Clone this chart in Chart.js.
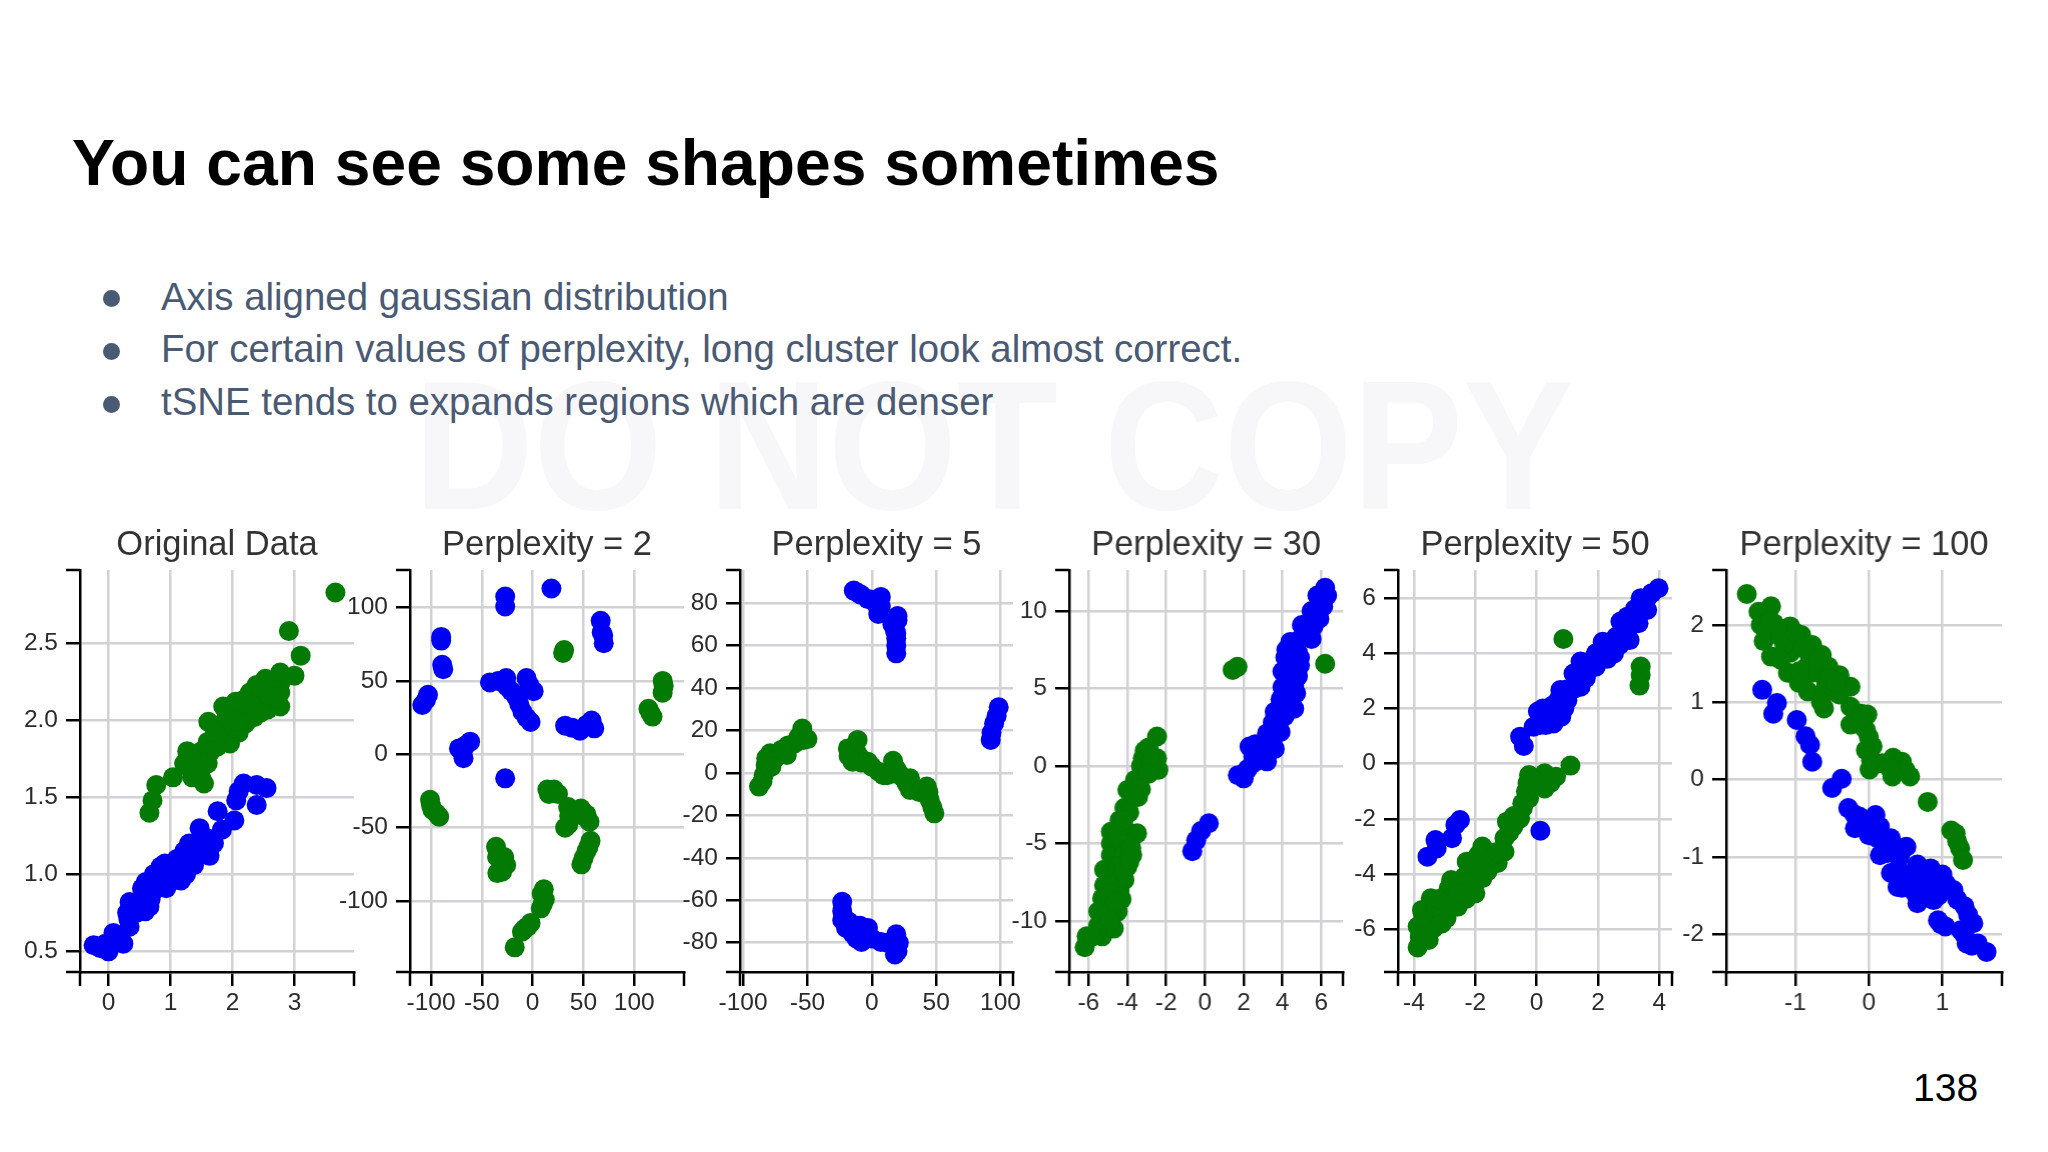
<!DOCTYPE html>
<html>
<head>
<meta charset="utf-8">
<title>You can see some shapes sometimes</title>
<script src="https://cdn.jsdelivr.net/npm/chart.js@4"></script>
<style>
  html, body { margin: 0; padding: 0; background: #fff; }
  body { position: relative; width: 2048px; height: 1152px; overflow: hidden; font-family: "Liberation Sans", Arial, sans-serif; }
  .abs { position: absolute; white-space: nowrap; line-height: 1; }
  #mainTitle { left: 72px; top: 131px; font-size: 64.2px; font-weight: bold; color: #000; }
  #watermark { left: 414px; top: 354px; font-size: 183px; font-weight: bold; color: #f7f6f8; transform: scaleX(0.905); transform-origin: left top; }
  .bullet { left: 161px; font-size: 38.4px; color: #4a5a75; }
  .dot { position: absolute; left: 103px; width: 17px; height: 17px; border-radius: 50%; background: #4a5a75; }
  #pageNum { left: 1913px; top: 1068px; font-size: 39px; color: #000; }
  canvas { position: absolute; }
</style>
</head>
<body>
<div class="abs" id="watermark">DO NOT COPY</div>
<div class="abs" id="mainTitle">You can see some shapes sometimes</div>
<div class="dot" style="top:290px"></div>
<div class="abs bullet" style="top:278px">Axis aligned gaussian distribution</div>
<div class="dot" style="top:343px"></div>
<div class="abs bullet" style="top:330px">For certain values of perplexity, long cluster look almost correct.</div>
<div class="dot" style="top:396px"></div>
<div class="abs bullet" style="top:383px">tSNE tends to expands regions which are denser</div>
<div class="abs" id="pageNum">138</div>

<script>
// values, [x, y]
const originalGreen = [[3.66,2.83],[2.91,2.58],[3.10,2.42],[3.0,2.29],[2.77,2.31],[2.53,2.27],[2.39,2.23],[2.28,2.18],[2.17,2.13],[2.77,2.24],[2.77,2.18],[2.77,2.09],[2.57,2.07],[2.35,2.02],[2.21,1.98],[2.10,1.92],[1.96,1.85],[1.85,2.09],[1.96,2.08],[1.99,2.01],[2.14,2.05],[2.46,2.15],[2.64,2.22],[2.57,2.13],[2.35,2.09],[1.61,1.99],[1.71,1.94],[1.60,1.86],[1.76,1.83],[1.27,1.80],[1.42,1.76],[1.22,1.72],[1.56,1.74],[1.31,1.69],[1.49,1.68],[1.35,1.63],[1.54,1.59],[1.04,1.63],[0.77,1.58],[0.71,1.48],[0.66,1.40],[1.92,1.96],[2.25,2.08],[1.85,1.98],[1.45,1.70],
  [2.0,1.95],[2.05,2.0],[2.2,2.12],[2.3,2.1],[2.45,2.05],[2.6,2.2],[2.7,2.15],[1.8,1.95],[1.75,1.9],[1.5,1.8],[1.65,1.8],[1.35,1.75],[1.28,1.72],[1.4,1.68],[1.5,1.62],[2.45,2.22],[1.9,2.02],[2.05,2.12],[1.6,1.72]];
const originalBlue = [[2.55,1.56],[2.39,1.58],[2.18,1.59],[2.39,1.45],[2.06,1.48],[2.10,1.54],[1.76,1.41],[2.03,1.35],[1.83,1.29],[1.47,1.30],[1.63,1.23],[1.49,1.20],[1.63,1.12],[1.22,1.15],[1.38,1.16],[1.38,1.06],[1.24,1.07],[1.17,0.96],[0.91,1.07],[0.73,1.0],[1.02,1.0],[0.93,0.91],[1.17,1.02],[0.54,0.91],[0.68,0.84],[0.66,0.79],[0.59,0.76],[0.34,0.82],[0.32,0.71],[0.34,0.66],[0.08,0.62],[0.24,0.55],[0,0.5],[-0.24,0.54],[-0.13,0.52],[0.84,1.05],[0.88,0.95],[1.1,1.05],[0.62,0.88],
  [1.0,.95],[.8,.95],[.75,.9],[.6,.8],[1.1,1.1],[1.3,1.1],[1.45,1.12],[1.3,1.2],[1.5,1.25],[1.7,1.2],[.95,1.02],[1.25,1.0],[.5,.8],[.45,.75],[.6,.95],[.3,.75],[-.05,.55]];

const perp2Green = [[31,71],[30,69],[129,46.6],[128,42],[114,31],[118,25.7],[21,-24],[14.5,-24],[35,-36],[47.5,-37],[56,-46],[35,-48],[57,-59],[50,-71],[53,-66],[-101,-31],[-98.5,-38],[-92,-42.5],[-36,-63],[-26,-75.5],[-34.7,-81],[9,-95],[12,-99],[8,-105],[-5,-117.5],[-10.5,-121],[-17.6,-131.6],[36,-42],
  [-100,-35],[-95,-40],[-30,-80],[-28,-70],[-35,-70],[16,-27],[25,-27],[-8,-119],[-2,-115],[10,-102],[11,-92],[53,-41],[50,-42],[37,-43],[55,-63],[48,-75],[116,28],[128,50],[32,-50]];
const perp2Blue = [[18.5,113],[-27,107.5],[-27,100.7],[67,91],[69.5,81],[70,75.7],[-90,77.5],[-89,61],[-103,40.5],[-108.6,33.6],[-42,49],[-26,52],[-25,46],[-16,39],[-10,29],[-2,22],[-6,52],[1,43],[32,19.5],[46.6,16],[58,23],[60.7,17.7],[-61.5,8.6],[-72.5,4],[-68,-2.7],[-27,-16.4],
  [68,83],[-105,37],[-34,50],[-21,43],[-13,34],[-6,25],[-3,47],[39,18],[53,20],[-66,6],[-69,1],[-68,5],[-90,80],[-88,58]];

const perp5Green = [[-54,21],[-53,15.6],[-65,13],[-66,8.5],[-79,9.3],[-82.5,3.8],[-87.6,-6.4],[-84,-1],[-18.6,11.6],[-11,15.6],[-15,5.3],[-3,5.3],[5.5,0.6],[16.5,5.8],[17.6,-0.2],[29.7,-2.5],[29.7,-8],[42.7,-6.4],[45,-12.7],[48.6,-19],[21,0],[-10,8],
  [-57,17],[-60,14],[-70,11],[-75,7],[-82,7],[-80,6],[-85,-4],[-78,3],[-50,16],[-15,10],[-12,10],[-8,5],[0,3],[9,-1],[12,-1],[24,-2],[19,2],[27,-5],[37,-9],[44,-9],[47,-16],[-18,8]];
const perp5Blue = [[-14,86],[-8.3,84],[7,83],[7,78.5],[0,81.6],[20,74],[16,70],[19,63.5],[19,56.4],[19,60],[98.6,31],[95,23.4],[92.4,15.6],[-23,-60.7],[-23,-69.3],[-15,-75.6],[-8,-79.6],[-3,-73],[7,-79.6],[19,-76],[21,-80],[18,-85.5],[-11,-72],
  [-11,85],[-3,82],[3,80],[5,75],[18,67],[20,72],[19,66],[97,27],[93,19],[-23,-65],[-20,-73],[-18,-70],[-12,-78],[-5,-76],[0,-78],[12,-80],[20,-84],[-7,-74],[-9,-72]];

const perp30Green = [[1.43,6.2],[1.68,6.4],[6.2,6.6],[-2.47,1.9],[-3.1,1],[-3.2,.5],[-2.47,.5],[-2.4,-.25],[-3.3,0],[-3.6,-.9],[-4,-1.55],[-3.45,-2],[-4.15,-2.7],[-4.4,-3.5],[-3.5,-4.35],[-4.85,-4.25],[-4,-4.25],[-4.85,-5],[-3.9,-5],[-3.75,-5.75],[-4.85,-5.75],[-4,-6.5],[-5.2,-6.7],[-4.15,-7.35],[-5.2,-7.7],[-4.4,-8],[-5.3,-8.55],[-4.85,-8.9],[-4.5,-9.4],[-5.5,-9.4],[-4.7,-10.5],[-5.5,-10.3],[-5.3,-11],[-6.1,-11],[-6.2,-11.7],[-4.5,-5.5],[-4.6,-7],[-5,-10],[-4.4,-4.8],
  [-2.9,1.2],[-2.8,.2],[-2.9,-.5],[-3.3,-1.5],[-3.7,-1.8],[-3.9,-3],[-4.2,-3.5],[-4.5,-4.5],[-4.2,-5],[-4.2,-5.8],[-4.5,-6.5],[-4.5,-7.5],[-4.9,-7.8],[-4.9,-8.2],[-5,-9.5],[-5.1,-10.3],[-4.9,-10],[-5.6,-10.8],[-5.8,-11],[-4.2,-6.8],[-4.3,-8.6],[-4.6,-8.8],[-3.8,-5.3],[-3.9,-6.2]];
const perp30Blue = [[6.2,11.5],[6.3,11],[6.1,10.3],[5.5,10],[5.6,9],[5,9.1],[4.8,8.1],[4.8,7.3],[4.15,7],[4.9,6.5],[4,6.1],[4.8,5.8],[4,5.1],[4.7,4.7],[3.9,4.3],[4.6,3.7],[3.6,3.5],[3.8,2.8],[3.9,2.2],[3.2,2.1],[3.1,1.4],[2.3,1.25],[3.6,1.1],[2.5,.6],[3.2,.3],[2.5,.2],[1.7,-.6],[2,-.8],[4.4,6.4],[4.3,5.6],[2.8,1.2],[.2,-3.7],[-.2,-4.2],[-.45,-4.8],[-.65,-5.5],
  [5.8,11],[5.8,10],[5.9,9.5],[5.3,9],[5.3,8.5],[5.5,8.2],[4.4,8],[4.2,7.5],[4.5,6.9],[4.5,6],[4.4,5.2],[4.4,4.5],[4.2,3.9],[4.1,3.2],[3.8,3.5],[3.5,2.8],[3.5,1.8],[3.4,1],[2.9,.9],[2.9,.4],[2.6,1.4],[2.2,-.2],[4.9,7],[4.6,5.2]];

const perp50Green = [[.87,4.52],[3.39,3.52],[3.39,3.21],[3.35,2.83],[1.1,-.07],[.63,-.47],[.26,-.35],[-.25,-.41],[.26,-.9],[-.17,-.83],[-.25,-1.26],[-.47,-1.44],[-.54,-1.98],[-.97,-2.1],[-.76,-2.28],[-1.05,-2.7],[-1.05,-3.19],[-1.77,-3],[-1.27,-3.6],[-2.28,-3.55],[-1.7,-3.6],[-1.77,-4.15],[-2.79,-4.22],[-2.36,-4.1],[-2,-4.7],[-2.87,-4.52],[-2.36,-4.64],[-2.57,-5.18],[-3.45,-4.88],[-2.94,-4.94],[-2.94,-5.6],[-3.74,-5.3],[-3.37,-5.55],[-3.37,-5.97],[-3.88,-5.9],[-3.52,-6.39],[-3.88,-6.66],[-3.81,-6.27],[-1.4,-3.3],[-2,-3.9],
  [-3.6,-5.8],[-3.7,-5.5],[-3.3,-5.2],[-3.1,-5.3],[-3.1,-5.8],[-3,-5],[-2.7,-4.8],[-2.7,-5.2],[-2.6,-4.4],[-2.3,-4.9],[-2.2,-4.3],[-2,-4.1],[-1.85,-3.7],[-2.1,-3.6],[-1.6,-3.9],[-1.5,-3.3],[-1.3,-3.2],[-1.9,-3.3],[-.9,-2.5],[-.75,-1.9],[-.45,-1.6],[-.35,-1.0],[-.1,-.6],[.45,-.7],[-.85,-2.3],[-3.2,-4.9],[-2.55,-4.7],[-.3,-.7]];
const perp50Blue = [[3.97,6.36],[3.75,6.18],[3.39,6],[3.6,5.57],[3.32,5.09],[2.95,5.33],[2.73,5.15],[3.03,4.48],[2.59,4.6],[2.15,4.42],[2.52,4],[1.93,4],[1.93,3.52],[1.43,3.7],[1.2,3.27],[1.43,2.79],[.77,2.67],[1,2.3],[.04,1.89],[.63,1.95],[.55,1.46],[-.1,1.34],[.26,1.7],[-.54,.98],[-.42,.64],[1.7,3.4],[2.3,4.1],[3.3,5.6],[.7,2.3],[-2.5,-2.04],[-2.65,-2.22],[-2.76,-2.7],[-3.3,-2.77],[-3.26,-3.07],[-3.56,-3.37],[.12,-2.43],
  [3.5,5.8],[3.2,5.6],[3.0,4.9],[2.8,4.7],[2.7,4.3],[2.3,4.3],[2.1,3.9],[1.7,3.6],[1.6,3.1],[1.3,3],[1.2,2.7],[1,2.7],[.9,2],[.5,2.1],[.3,1.4],[.2,2],[.1,1.4],[.4,1.7],[.8,1.7],[1.9,3.9],[3.6,6],[2.3,3.8]];

const perp100Green = [[-1.66,2.4],[-1.33,2.24],[-1.5,2.17],[-1.47,2],[-1.29,2.02],[-1.43,1.79],[-1.07,1.98],[-1.25,1.94],[-.92,1.87],[-.77,1.74],[-.64,1.61],[-1.33,1.59],[-1.07,1.64],[-1.1,1.38],[-.8,1.57],[-.77,1.38],[-.55,1.46],[-.4,1.35],[-.25,1.2],[-.83,1.14],[-.58,1.25],[-.46,1.14],[-.61,.92],[-.25,.94],[-.02,.84],[-.25,.71],[-.04,.64],[.05,.43],[-.04,.38],[.01,.13],[.18,.21],[.33,.28],[.45,.23],[.32,.04],[.56,.04],[.8,-.29],[1.12,-.66],[1.24,-.89],[1.28,-1.04],[1.18,-.7],[-1.0,1.8],[-.95,1.25],
  [-1.4,1.9],[-1.35,2.05],[-1.2,1.85],[-1.15,1.75],[-1.0,1.9],[-.9,1.7],[-.85,1.45],[-.7,1.55],[-.6,1.15],[-.55,1.3],[-.35,1.2],[-.4,1.1],[-.95,1.4],[-1.2,1.55],[-.45,1.25],[-.1,.7],[-.15,.75],[0,.55],[.03,.25],[.1,.2],[.4,.15],[.5,.12],[.28,.15],[-.1,.85],[-.65,1.0],[1.2,-.8]];
const perp100Blue = [[-1.45,1.16],[-1.25,.99],[-1.3,.85],[-.98,.77],[-.86,.56],[-.8,.45],[-.77,.23],[-.37,.01],[-.5,-.11],[-.28,-.37],[-.13,-.48],[-.19,-.63],[.09,-.46],[.15,-.61],[0,-.72],[.3,-.76],[.15,-.98],[.51,-.87],[.42,-1],[.3,-1.21],[.66,-1.1],[.39,-1.39],[.51,-1.26],[.63,-1.47],[.66,-1.6],[.84,-1.15],[1,-1.23],[.81,-1.39],[.88,-1.56],[.97,-1.39],[1.15,-1.43],[1.3,-1.64],[.94,-1.82],[1.04,-1.9],[1.42,-1.86],[1.3,-2.01],[1.33,-2.12],[1.48,-2.12],[1.6,-2.23],
  [-.1,-.6],[0,-.55],[.05,-.7],[.1,-.75],[.2,-.85],[.25,-.95],[.35,-.9],[.4,-1.15],[.45,-1.4],[.55,-1.4],[.6,-1.3],[.75,-1.3],[.7,-1.5],[.9,-1.25],[.95,-1.5],[1.05,-1.35],[1.2,-1.55],[1.35,-1.75],[.98,-1.87],[1.25,-1.95],[1.4,-2.15],[.6,-1.22],[-.2,-.45]];

const panelTitles = ['Original Data', 'Perplexity = 2', 'Perplexity = 5', 'Perplexity = 30', 'Perplexity = 50', 'Perplexity = 100'];

const xTicks = [
  [0, 1, 2, 3],
  [-100, -50, 0, 50, 100],
  [-100, -50, 0, 50, 100],
  [-6, -4, -2, 0, 2, 4, 6],
  [-4, -2, 0, 2, 4],
  [-1, 0, 1]
];
const yTicks = [
  [0.5, 1, 1.5, 2, 2.5],
  [-100, -50, 0, 50, 100],
  [-80, -60, -40, -20, 0, 20, 40, 60, 80],
  [-10, -5, 0, 5, 10],
  [-6, -4, -2, 0, 2, 4, 6],
  [-2, -1, 0, 1, 2]
];

// axis domains
const xRanges = [[-0.46, 3.96], [-120.7, 149], [-102.4, 109.7], [-7.0, 7.12], [-4.52, 4.41], [-1.94, 1.81]];
const yRanges = [[0.366, 2.976], [-148.4, 125.6], [-93.8, 95.7], [-13.3, 12.65], [-7.55, 7.02], [-2.49, 2.71]];

const greens = [originalGreen, perp2Green, perp5Green, perp30Green, perp50Green, perp100Green];
const blues  = [originalBlue, perp2Blue, perp5Blue, perp30Blue, perp50Blue, perp100Blue];

// left and right edge of each plot on the page
const plotLefts  = [80, 409.5, 739.5, 1069, 1397.5, 1726];
const plotRights = [354, 683.5, 1013, 1342.5, 1671.5, 2001.5];

const PLOT_TOP = 570, PLOT_BOTTOM = 972;
const LEFT_ROOM = 70, RIGHT_ROOM = 30, TOP_ROOM = 50, BOTTOM_ROOM = 58;
const TICK_LEN = 14;
const GRID = '#d2d2d6';
const TEXT = '#2b2b2b';

// d3 style end ticks on both axes
const outerTicks = {
  id: 'outerTicks',
  afterDraw(chart) {
    const { ctx, chartArea: a } = chart;
    ctx.save();
    ctx.strokeStyle = '#000';
    ctx.lineWidth = 2.5;
    ctx.beginPath();
    ctx.moveTo(a.left - TICK_LEN, a.top);    ctx.lineTo(a.left, a.top);
    ctx.moveTo(a.left - TICK_LEN, a.bottom); ctx.lineTo(a.left, a.bottom);
    ctx.moveTo(a.left, a.bottom);  ctx.lineTo(a.left, a.bottom + TICK_LEN);
    ctx.moveTo(a.right, a.bottom); ctx.lineTo(a.right, a.bottom + TICK_LEN);
    ctx.stroke();
    ctx.restore();
  }
};

function axisOptions(range, ticks, decimals) {
  return {
    type: 'linear',
    min: range[0],
    max: range[1],
    afterBuildTicks: s => { s.ticks = ticks.map(v => ({ value: v })); },
    border: { display: true, color: '#000', width: 2.5 },
    grid: { color: GRID, lineWidth: 2.5, tickColor: '#000', tickWidth: 2.5, tickLength: TICK_LEN },
    ticks: {
      autoSkip: false,
      maxRotation: 0,
      color: TEXT,
      font: { family: '"Liberation Sans", Arial', size: 24.5 },
      callback: v => decimals ? v.toFixed(decimals) : String(v)
    }
  };
}

panelTitles.forEach((name, i) => {
  const canvas = document.createElement('canvas');
  const w = plotRights[i] - plotLefts[i] + LEFT_ROOM + RIGHT_ROOM;
  const h = PLOT_BOTTOM - PLOT_TOP + TOP_ROOM + BOTTOM_ROOM;
  canvas.width = w;
  canvas.height = h;
  canvas.style.left = (plotLefts[i] - LEFT_ROOM) + 'px';
  canvas.style.top = (PLOT_TOP - TOP_ROOM) + 'px';
  canvas.style.width = w + 'px';
  canvas.style.height = h + 'px';
  document.body.appendChild(canvas);

  const x = axisOptions(xRanges[i], xTicks[i], 0);
  x.ticks.padding = 3;
  x.afterFit = s => { s.height = BOTTOM_ROOM; };
  const y = axisOptions(yRanges[i], yTicks[i], i === 0 ? 1 : 0);
  y.ticks.padding = 8;
  y.afterFit = s => { s.width = LEFT_ROOM; };

  new Chart(canvas, {
    type: 'scatter',
    data: {
      datasets: [
        { data: greens[i].map(p => ({ x: p[0], y: p[1] })), backgroundColor: '#037a03', borderWidth: 0, pointRadius: 10, clip: false },
        { data: blues[i].map(p => ({ x: p[0], y: p[1] })), backgroundColor: '#0000f5', borderWidth: 0, pointRadius: 10, clip: false }
      ]
    },
    options: {
      responsive: false,
      animation: false,
      devicePixelRatio: 1,
      layout: { padding: { left: 0, top: 0, right: RIGHT_ROOM, bottom: 0 } },
      plugins: {
        legend: { display: false },
        tooltip: { enabled: false },
        title: {
          display: true,
          text: name,
          fullSize: false,
          color: '#333',
          font: { family: '"Liberation Sans", Arial', size: 34.5, weight: 'normal', lineHeight: 1 },
          padding: { top: 8, bottom: 7.5 }
        }
      },
      scales: { x, y }
    },
    plugins: [outerTicks]
  });
});
</script>
</body>
</html>
